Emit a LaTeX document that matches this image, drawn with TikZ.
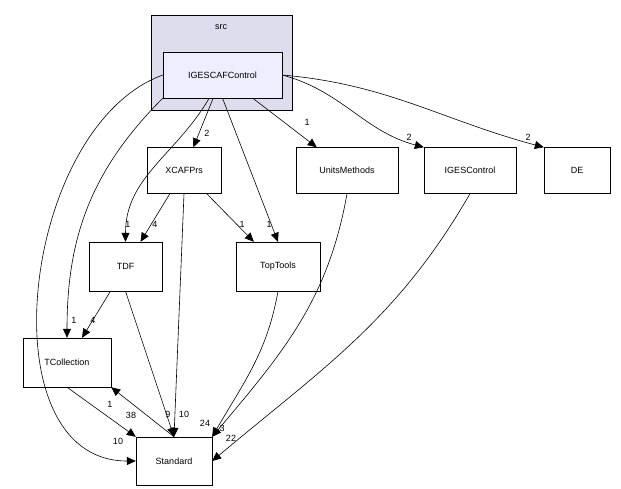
\documentclass[tikz,border=0pt]{standalone}
\usepackage{fontspec}
\setmainfont{Liberation Sans}
\usetikzlibrary{arrows.meta}
\begin{document}
\begin{tikzpicture}[x=1pt,y=-1pt,font=\fontsize{9}{10}\selectfont]
\tikzstyle{dir}=[draw,fill=white,minimum width=#1,minimum height=46pt,inner sep=0pt]
\tikzstyle{dep}=[-{Triangle[length=9pt,width=8pt]},line width=0.6pt]
\tikzstyle{num}=[inner sep=0pt,font=\fontsize{9}{10}\selectfont]
\useasboundingbox (0,0) rectangle (621,489);

\draw [fill={rgb,255:red,221;green,221;blue,238}] (151,15) rectangle (292,110);
\node at (221,27) {src};
\node (igescaf) [dir=119pt,fill={rgb,255:red,238;green,238;blue,255}] at (222.5,75) {IGESCAFControl};
\node (xcafprs) [dir=74pt] at (184,170.5) {XCAFPrs};
\node (units) [dir=102pt] at (347,170.5) {UnitsMethods};
\node (igesctl) [dir=92pt] at (470,170.5) {IGESControl};
\node (de) [dir=66pt] at (577,170.5) {DE};
\node (tdf) [dir=73pt,minimum height=49pt] at (125.5,266.5) {TDF};
\node (toptools) [dir=84pt,minimum height=49pt] at (278,266.5) {TopTools};
\node (tcoll) [dir=88pt,minimum height=49pt] at (67,362.5) {TCollection};
\node (std) [dir=76pt,minimum height=48pt] at (174,461) {Standard};

\draw [dep] (igescaf) to (xcafprs);
\draw [dep] (igescaf) to (units);
\draw [dep] (igescaf.east) to [out=-15, in=165] (igesctl.north west);
\draw [dep] (igescaf.east) to [out=-5, in=165] (de.north west);
\draw [dep] (igescaf) to [out=240, in=90] (tdf.north);
\draw [dep] (igescaf.south) to (toptools.north);
\draw [dep] (igescaf.south west) to [out=225, in=90] (tcoll.north);
\draw [dep] (igescaf.west) to [out=200, in=180] (std.west);
\draw [dep] (xcafprs) to (tdf);
\draw [dep] (xcafprs) to (toptools);
\draw [dep] (xcafprs.south) to (std.north);
\draw [dep] (tdf) to (tcoll);
\draw [dep] (tdf.south) to (std.north);
\draw [dep] (toptools.south) to [out=260, in=60] (std.north east);
\draw [dep] (units.south) to [out=260, in=50] (std.north east);
\draw [dep] (igesctl.south) to [out=240, in=40] (std.east);
\draw [dep] (tcoll.south) to (std.north west);
\draw [dep] (std.north) to (tcoll.south east);

\node [num] at (207,133) {2};
\node [num] at (307,122) {1};
\node [num] at (409,137) {2};
\node [num] at (528,137) {2};
\node [num] at (128,224) {1};
\node [num] at (269,224) {1};
\node [num] at (74,320) {1};
\node [num] at (118,441) {10};
\node [num] at (155,224) {4};
\node [num] at (242,224) {1};
\node [num] at (168,414) {9};
\node [num] at (93,320) {4};
\node [num] at (184,414) {10};
\node [num] at (205,423) {24};
\node [num] at (222,428) {3};
\node [num] at (231,438) {22};
\node [num] at (131,415) {38};
\node [num] at (110,404) {1};
\end{tikzpicture}
\end{document}
